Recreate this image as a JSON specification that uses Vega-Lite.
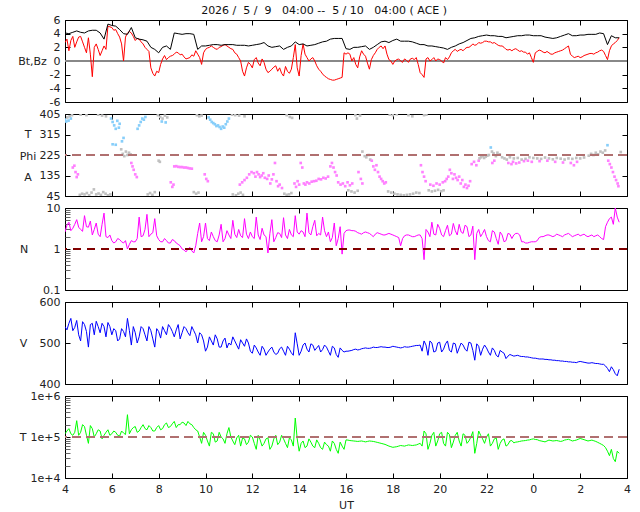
{
  "$schema": "https://vega.github.io/schema/vega-lite/v6.json",
  "padding": {"left": 17, "top": 5, "right": 5, "bottom": 5},
  "bounds": "flush",
  "spacing": 12,
  "title": {
    "text": "2026 /\u00a0 5 /\u00a0 9 \u00a0 04:00 --\u00a0 5 / 10 \u00a0 04:00 ( ACE )",
    "font": "DejaVu Sans", "fontSize": 11, "fontWeight": "normal", "color": "#111",
    "anchor": "middle", "offset": -2.5
  },
  "config": {
    "font": "DejaVu Sans",
    "view": {"stroke": "black", "strokeWidth": 1},
    "axis": {
      "domain": false, "grid": false, "tickColor": "black", "tickSize": -5, "tickWidth": 1,
      "labelPadding": 10, "labelFont": "DejaVu Sans", "labelFontSize": 11, "labelColor": "#222",
      "titleFont": "DejaVu Sans", "titleFontSize": 11, "titleFontWeight": "normal", "titleColor": "#222",
      "labelFlush": false, "labelOverlap": false
    }
  },
  "datasets": {
    "sw": [
      {"m":0,"bt":4.1,"bz":2.7,"n":2.6,"v":540,"tp":120000},
      {"m":10,"bt":4.0,"bz":1.5,"n":4.5,"v":548,"tp":160000},
      {"m":20,"bt":4.2,"bz":3.6,"n":3.2,"v":530,"tp":110000},
      {"m":30,"bt":4.4,"bz":2.8,"n":5.2,"v":555,"tp":250000},
      {"m":40,"bt":4.2,"bz":3.6,"n":3.0,"v":505,"tp":130000},
      {"m":50,"bt":4.1,"bz":2.0,"n":6.5,"v":545,"tp":180000},
      {"m":60,"bt":4.4,"bz":3.4,"n":3.4,"v":490,"tp":70000},
      {"m":70,"bt":4.5,"bz":-2.3,"n":2.2,"v":548,"tp":160000},
      {"m":80,"bt":4.5,"bz":2.5,"n":4.3,"v":553,"tp":120000},
      {"m":90,"bt":4.1,"bz":0.8,"n":2.0,"v":525,"tp":140000},
      {"m":100,"bt":3.2,"bz":2.2,"n":7.5,"v":540,"tp":110000},
      {"m":110,"bt":5.4,"bz":5.1,"n":1.9,"v":550,"tp":150000},
      {"m":120,"bt":5.2,"bz":4.9,"n":1.6,"v":520,"tp":120000},
      {"m":130,"bt":5.1,"bz":4.6,"n":1.5,"v":530,"tp":130000},
      {"m":140,"bt":4.6,"bz":3.5,"n":1.7,"v":510,"tp":105000},
      {"m":150,"bt":4.0,"bz":0.0,"n":1.4,"v":528,"tp":125000},
      {"m":160,"bt":3.9,"bz":4.1,"n":1.0,"v":560,"tp":350000},
      {"m":170,"bt":4.9,"bz":4.1,"n":1.6,"v":495,"tp":150000},
      {"m":180,"bt":3.4,"bz":3.0,"n":1.5,"v":525,"tp":180000},
      {"m":190,"bt":3.2,"bz":3.2,"n":6.0,"v":515,"tp":140000},
      {"m":200,"bt":3.1,"bz":2.5,"n":2.1,"v":535,"tp":200000},
      {"m":210,"bt":2.9,"bz":1.7,"n":7.0,"v":505,"tp":150000},
      {"m":220,"bt":2.0,"bz":-1.0,"n":2.3,"v":530,"tp":170000},
      {"m":230,"bt":1.7,"bz":-2.2,"n":5.5,"v":490,"tp":140000},
      {"m":240,"bt":1.2,"bz":-1.7,"n":1.7,"v":528,"tp":190000},
      {"m":250,"bt":2.0,"bz":0.3,"n":1.5,"v":540,"tp":160000},
      {"m":260,"bt":2.2,"bz":0.2,"n":1.6,"v":520,"tp":220000},
      {"m":270,"bt":1.7,"bz":0.7,"n":1.4,"v":538,"tp":180000},
      {"m":280,"bt":4.1,"bz":1.0,"n":1.6,"v":515,"tp":240000},
      {"m":290,"bt":4.0,"bz":1.2,"n":1.3,"v":545,"tp":200000},
      {"m":300,"bt":3.9,"bz":1.0,"n":1.0,"v":525,"tp":230000},
      {"m":310,"bt":4.0,"bz":0.3,"n":0.85,"v":535,"tp":190000},
      {"m":320,"bt":4.0,"bz":0.5,"n":1.1,"v":518,"tp":210000},
      {"m":330,"bt":3.9,"bz":0.7,"n":0.8,"v":530,"tp":170000},
      {"m":340,"bt":1.7,"bz":1.0,"n":2.4,"v":500,"tp":140000},
      {"m":350,"bt":2.2,"bz":-0.5,"n":1.5,"v":520,"tp":70000},
      {"m":360,"bt":2.2,"bz":1.7,"n":4.3,"v":480,"tp":110000},
      {"m":370,"bt":2.3,"bz":2.0,"n":1.6,"v":515,"tp":60000},
      {"m":380,"bt":2.4,"bz":2.0,"n":2.0,"v":495,"tp":120000},
      {"m":390,"bt":2.4,"bz":1.7,"n":1.5,"v":510,"tp":80000},
      {"m":400,"bt":2.3,"bz":2.1,"n":4.0,"v":490,"tp":100000},
      {"m":410,"bt":2.4,"bz":2.4,"n":1.8,"v":512,"tp":70000},
      {"m":420,"bt":2.4,"bz":2.0,"n":2.2,"v":500,"tp":170000},
      {"m":430,"bt":2.4,"bz":1.7,"n":5.0,"v":515,"tp":80000},
      {"m":440,"bt":2.3,"bz":1.0,"n":1.9,"v":495,"tp":95000},
      {"m":450,"bt":2.3,"bz":0.0,"n":2.1,"v":508,"tp":60000},
      {"m":460,"bt":2.3,"bz":-2.2,"n":5.5,"v":492,"tp":90000},
      {"m":470,"bt":2.2,"bz":-0.2,"n":1.8,"v":500,"tp":75000},
      {"m":480,"bt":2.3,"bz":-1.0,"n":2.0,"v":475,"tp":100000},
      {"m":490,"bt":2.4,"bz":0.5,"n":6.0,"v":488,"tp":50000},
      {"m":500,"bt":2.5,"bz":-0.7,"n":1.7,"v":470,"tp":85000},
      {"m":510,"bt":2.7,"bz":-0.2,"n":2.2,"v":485,"tp":70000},
      {"m":520,"bt":2.2,"bz":-1.7,"n":0.8,"v":478,"tp":95000},
      {"m":530,"bt":2.0,"bz":-1.2,"n":5.2,"v":490,"tp":60000},
      {"m":540,"bt":2.1,"bz":-0.7,"n":1.9,"v":472,"tp":110000},
      {"m":550,"bt":2.2,"bz":-1.0,"n":2.4,"v":486,"tp":75000},
      {"m":560,"bt":1.7,"bz":-2.2,"n":5.8,"v":480,"tp":90000},
      {"m":570,"bt":2.0,"bz":-1.5,"n":1.8,"v":492,"tp":55000},
      {"m":580,"bt":2.2,"bz":-1.2,"n":2.2,"v":476,"tp":85000},
      {"m":590,"bt":2.8,"bz":2.4,"n":6.5,"v":525,"tp":290000},
      {"m":600,"bt":2.4,"bz":-2.2,"n":2.3,"v":470,"tp":45000},
      {"m":610,"bt":2.5,"bz":2.5,"n":2.6,"v":495,"tp":80000},
      {"m":620,"bt":2.2,"bz":0.5,"n":7.5,"v":485,"tp":60000},
      {"m":630,"bt":2.3,"bz":0.3,"n":2.2,"v":498,"tp":75000},
      {"m":640,"bt":2.4,"bz":0.0,"n":5.0,"v":482,"tp":55000},
      {"m":650,"bt":2.6,"bz":-1.2,"n":2.4,"v":494,"tp":70000},
      {"m":660,"bt":2.8,"bz":-1.9,"n":6.0,"v":484,"tp":50000},
      {"m":670,"bt":2.9,"bz":-2.4,"n":2.0,"v":490,"tp":65000},
      {"m":680,"bt":3.2,"bz":-2.7,"n":1.5,"v":470,"tp":45000},
      {"m":690,"bt":3.3,"bz":-2.8,"n":4.3,"v":488,"tp":70000},
      {"m":700,"bt":3.3,"bz":-2.6,"n":1.8,"v":465,"tp":40000},
      {"m":710,"bt":3.3,"bz":-2.4,"n":0.75,"v":482,"tp":60000},
      {"m":720,"bt":1.8,"bz":1.0,"n":2.8,"v":480,"tp":85000},
      {"m":730,"bt":1.7,"bz":1.0,"n":2.9,"v":481,"tp":82000},
      {"m":740,"bt":2.0,"bz":0.5,"n":2.8,"v":484,"tp":80000},
      {"m":750,"bt":2.0,"bz":-1.0,"n":2.5,"v":483,"tp":78000},
      {"m":760,"bt":2.1,"bz":1.5,"n":2.3,"v":486,"tp":80000},
      {"m":770,"bt":2.2,"bz":0.7,"n":2.6,"v":488,"tp":76000},
      {"m":780,"bt":1.7,"bz":-1.2,"n":2.4,"v":487,"tp":80000},
      {"m":790,"bt":2.0,"bz":0.8,"n":2.0,"v":490,"tp":78000},
      {"m":800,"bt":2.4,"bz":1.7,"n":2.5,"v":489,"tp":74000},
      {"m":810,"bt":2.8,"bz":2.2,"n":2.3,"v":491,"tp":70000},
      {"m":820,"bt":2.9,"bz":2.2,"n":2.2,"v":490,"tp":66000},
      {"m":830,"bt":2.7,"bz":0.2,"n":2.4,"v":489,"tp":60000},
      {"m":840,"bt":3.0,"bz":-0.5,"n":2.2,"v":492,"tp":56000},
      {"m":850,"bt":3.2,"bz":0.2,"n":2.0,"v":490,"tp":58000},
      {"m":860,"bt":2.9,"bz":0.0,"n":1.2,"v":488,"tp":62000},
      {"m":870,"bt":2.9,"bz":0.3,"n":2.1,"v":491,"tp":60000},
      {"m":880,"bt":2.9,"bz":-0.2,"n":2.2,"v":490,"tp":64000},
      {"m":890,"bt":2.8,"bz":0.4,"n":2.0,"v":492,"tp":62000},
      {"m":900,"bt":2.6,"bz":0.5,"n":2.1,"v":494,"tp":64000},
      {"m":910,"bt":2.4,"bz":-1.7,"n":2.2,"v":495,"tp":70000},
      {"m":920,"bt":2.4,"bz":-2.4,"n":0.55,"v":505,"tp":140000},
      {"m":930,"bt":2.2,"bz":0.5,"n":2.6,"v":470,"tp":50000},
      {"m":940,"bt":2.2,"bz":0.2,"n":4.5,"v":500,"tp":110000},
      {"m":950,"bt":2.1,"bz":0.0,"n":2.2,"v":480,"tp":60000},
      {"m":960,"bt":2.0,"bz":0.2,"n":3.2,"v":502,"tp":120000},
      {"m":970,"bt":1.9,"bz":-0.3,"n":2.0,"v":485,"tp":70000},
      {"m":980,"bt":1.7,"bz":0.2,"n":3.8,"v":505,"tp":130000},
      {"m":990,"bt":2.0,"bz":1.2,"n":2.3,"v":478,"tp":55000},
      {"m":1000,"bt":2.2,"bz":1.7,"n":2.8,"v":498,"tp":110000},
      {"m":1010,"bt":2.5,"bz":1.6,"n":4.0,"v":488,"tp":80000},
      {"m":1020,"bt":2.7,"bz":1.5,"n":2.4,"v":495,"tp":120000},
      {"m":1030,"bt":3.0,"bz":2.0,"n":3.5,"v":480,"tp":70000},
      {"m":1040,"bt":3.3,"bz":2.2,"n":2.2,"v":500,"tp":100000},
      {"m":1050,"bt":3.4,"bz":2.3,"n":0.55,"v":458,"tp":40000},
      {"m":1060,"bt":3.6,"bz":2.7,"n":3.0,"v":492,"tp":140000},
      {"m":1070,"bt":3.7,"bz":2.7,"n":2.4,"v":485,"tp":90000},
      {"m":1080,"bt":3.8,"bz":2.9,"n":2.0,"v":488,"tp":100000},
      {"m":1090,"bt":3.7,"bz":2.8,"n":1.5,"v":470,"tp":60000},
      {"m":1100,"bt":3.7,"bz":2.7,"n":2.6,"v":482,"tp":90000},
      {"m":1110,"bt":3.6,"bz":2.3,"n":1.3,"v":466,"tp":50000},
      {"m":1120,"bt":3.6,"bz":2.2,"n":2.2,"v":478,"tp":85000},
      {"m":1130,"bt":3.4,"bz":1.7,"n":1.6,"v":462,"tp":60000},
      {"m":1140,"bt":3.5,"bz":1.7,"n":2.3,"v":472,"tp":80000},
      {"m":1150,"bt":3.6,"bz":1.7,"n":2.2,"v":468,"tp":72000},
      {"m":1160,"bt":3.7,"bz":1.6,"n":2.4,"v":470,"tp":76000},
      {"m":1170,"bt":3.7,"bz":1.5,"n":1.5,"v":467,"tp":80000},
      {"m":1180,"bt":3.8,"bz":1.3,"n":1.4,"v":466,"tp":82000},
      {"m":1190,"bt":3.8,"bz":1.2,"n":1.45,"v":465,"tp":85000},
      {"m":1200,"bt":3.7,"bz":-0.2,"n":1.5,"v":463,"tp":90000},
      {"m":1210,"bt":3.7,"bz":1.4,"n":1.6,"v":462,"tp":86000},
      {"m":1220,"bt":3.7,"bz":1.5,"n":2.0,"v":461,"tp":80000},
      {"m":1230,"bt":3.5,"bz":1.2,"n":2.1,"v":460,"tp":76000},
      {"m":1240,"bt":3.4,"bz":1.2,"n":2.2,"v":459,"tp":84000},
      {"m":1250,"bt":3.3,"bz":1.0,"n":2.0,"v":458,"tp":80000},
      {"m":1260,"bt":3.4,"bz":1.3,"n":2.3,"v":457,"tp":82000},
      {"m":1270,"bt":3.6,"bz":1.5,"n":2.1,"v":456,"tp":78000},
      {"m":1280,"bt":3.8,"bz":1.8,"n":2.2,"v":455,"tp":84000},
      {"m":1290,"bt":4.0,"bz":2.2,"n":2.4,"v":454,"tp":88000},
      {"m":1300,"bt":3.7,"bz":0.7,"n":2.0,"v":453,"tp":80000},
      {"m":1310,"bt":3.7,"bz":0.6,"n":2.2,"v":452,"tp":84000},
      {"m":1320,"bt":3.8,"bz":0.5,"n":2.1,"v":455,"tp":92000},
      {"m":1330,"bt":3.8,"bz":0.8,"n":2.3,"v":453,"tp":86000},
      {"m":1340,"bt":3.9,"bz":1.0,"n":2.0,"v":451,"tp":80000},
      {"m":1350,"bt":3.9,"bz":1.1,"n":2.2,"v":452,"tp":84000},
      {"m":1360,"bt":3.9,"bz":1.2,"n":2.1,"v":450,"tp":78000},
      {"m":1370,"bt":4.1,"bz":1.5,"n":2.0,"v":449,"tp":70000},
      {"m":1380,"bt":4.0,"bz":1.4,"n":1.7,"v":448,"tp":62000},
      {"m":1390,"bt":2.4,"bz":0.2,"n":4.5,"v":438,"tp":45000},
      {"m":1400,"bt":3.7,"bz":2.2,"n":6.0,"v":442,"tp":50000},
      {"m":1410,"bt":3.4,"bz":2.7,"n":10.0,"v":425,"tp":25000},
      {"m":1420,"bt":3.4,"bz":3.4,"n":4.5,"v":436,"tp":40000},
      {"m":5,"bz":3.2,"n":3.8,"v":532,"tp":140000},
      {"m":15,"bz":3.0,"n":2.8,"v":560,"tp":120000},
      {"m":25,"bz":2.0,"n":4.0,"v":538,"tp":130000},
      {"m":35,"bz":3.5,"n":3.4,"v":520,"tp":110000},
      {"m":45,"bz":2.8,"n":2.7,"v":552,"tp":200000},
      {"m":55,"bz":1.2,"n":3.5,"v":528,"tp":110000},
      {"m":65,"bz":1.0,"n":4.8,"v":545,"tp":190000},
      {"m":75,"bz":2.0,"n":3.0,"v":520,"tp":100000},
      {"m":85,"bz":1.7,"n":2.3,"v":540,"tp":150000},
      {"m":95,"bz":1.5,"n":4.0,"v":548,"tp":90000},
      {"m":105,"bz":1.7,"n":2.0,"v":515,"tp":130000},
      {"m":115,"bz":5.0,"n":2.2,"v":540,"tp":110000},
      {"m":125,"bz":4.5,"n":1.4,"v":535,"tp":140000},
      {"m":135,"bz":4.0,"n":1.8,"v":505,"tp":110000},
      {"m":145,"bz":2.5,"n":1.5,"v":535,"tp":140000},
      {"m":155,"bz":3.5,"n":1.6,"v":515,"tp":115000},
      {"m":165,"bz":4.3,"n":1.3,"v":530,"tp":120000},
      {"m":175,"bz":3.6,"n":1.5,"v":540,"tp":170000},
      {"m":185,"bz":3.3,"n":1.8,"v":500,"tp":130000},
      {"m":195,"bz":2.8,"n":2.0,"v":540,"tp":170000},
      {"m":205,"bz":2.0,"n":3.0,"v":520,"tp":160000},
      {"m":215,"bz":1.4,"n":2.0,"v":540,"tp":190000},
      {"m":225,"bz":-1.8,"n":2.5,"v":510,"tp":140000},
      {"m":235,"bz":-1.5,"n":2.1,"v":535,"tp":170000},
      {"m":245,"bz":-0.5,"n":1.5,"v":512,"tp":150000},
      {"m":255,"bz":0.8,"n":1.8,"v":530,"tp":200000},
      {"m":265,"bz":0.5,"n":1.4,"v":545,"tp":170000},
      {"m":275,"bz":0.8,"n":1.7,"v":528,"tp":210000},
      {"m":285,"bz":1.3,"n":1.4,"v":532,"tp":170000},
      {"m":295,"bz":0.9,"n":1.2,"v":510,"tp":200000},
      {"m":305,"bz":0.6,"n":0.95,"v":540,"tp":220000},
      {"m":315,"bz":0.4,"n":1.0,"v":525,"tp":240000},
      {"m":325,"bz":0.9,"n":0.9,"v":540,"tp":200000},
      {"m":335,"bz":1.5,"n":1.2,"v":520,"tp":150000},
      {"m":345,"bz":0.5,"n":4.3,"v":525,"tp":100000},
      {"m":355,"bz":1.2,"n":2.0,"v":505,"tp":130000},
      {"m":365,"bz":1.9,"n":1.8,"v":490,"tp":80000},
      {"m":375,"bz":2.2,"n":2.6,"v":505,"tp":130000},
      {"m":385,"bz":1.8,"n":1.6,"v":520,"tp":75000},
      {"m":395,"bz":2.0,"n":2.2,"v":490,"tp":130000},
      {"m":405,"bz":2.3,"n":1.5,"v":505,"tp":90000},
      {"m":415,"bz":2.2,"n":2.8,"v":488,"tp":120000},
      {"m":425,"bz":1.8,"n":1.8,"v":495,"tp":100000},
      {"m":435,"bz":1.2,"n":2.3,"v":505,"tp":65000},
      {"m":445,"bz":0.5,"n":3.0,"v":485,"tp":110000},
      {"m":455,"bz":-1.5,"n":1.9,"v":500,"tp":95000},
      {"m":465,"bz":-1.0,"n":2.3,"v":510,"tp":65000},
      {"m":475,"bz":-0.5,"n":2.6,"v":480,"tp":110000},
      {"m":485,"bz":0.2,"n":1.8,"v":495,"tp":70000},
      {"m":495,"bz":-0.3,"n":2.2,"v":478,"tp":110000},
      {"m":505,"bz":0.3,"n":3.2,"v":492,"tp":60000},
      {"m":515,"bz":-1.2,"n":2.0,"v":470,"tp":90000},
      {"m":525,"bz":-1.5,"n":2.4,"v":485,"tp":50000},
      {"m":535,"bz":-0.9,"n":1.5,"v":478,"tp":90000},
      {"m":545,"bz":-1.5,"n":2.5,"v":475,"tp":65000},
      {"m":555,"bz":-1.8,"n":1.9,"v":490,"tp":110000},
      {"m":565,"bz":-0.8,"n":2.2,"v":470,"tp":70000},
      {"m":575,"bz":-1.8,"n":3.0,"v":485,"tp":95000},
      {"m":585,"bz":0.5,"n":2.0,"v":470,"tp":60000},
      {"m":595,"bz":-1.0,"n":2.6,"v":498,"tp":90000},
      {"m":605,"bz":0.8,"n":2.8,"v":480,"tp":70000},
      {"m":615,"bz":1.0,"n":2.0,"v":500,"tp":55000},
      {"m":625,"bz":0.0,"n":2.5,"v":478,"tp":90000},
      {"m":635,"bz":0.5,"n":3.5,"v":495,"tp":60000},
      {"m":645,"bz":-0.7,"n":2.1,"v":488,"tp":85000},
      {"m":655,"bz":-1.5,"n":2.2,"v":478,"tp":55000},
      {"m":665,"bz":-2.2,"n":2.8,"v":495,"tp":75000},
      {"m":675,"bz":-2.6,"n":2.6,"v":480,"tp":60000},
      {"m":685,"bz":-2.8,"n":1.9,"v":492,"tp":80000},
      {"m":695,"bz":-2.7,"n":1.2,"v":472,"tp":50000},
      {"m":705,"bz":-2.5,"n":3.5,"v":488,"tp":75000},
      {"m":715,"bz":1.2,"n":2.4,"v":478,"tp":50000},
      {"m":725,"bz":1.2,"n":2.9,"v":480,"tp":84000},
      {"m":735,"bz":0.0,"n":2.8,"v":482,"tp":81000},
      {"m":745,"bz":-0.5,"n":2.7,"v":485,"tp":79000},
      {"m":755,"bz":0.6,"n":2.4,"v":484,"tp":79000},
      {"m":765,"bz":1.0,"n":2.5,"v":487,"tp":78000},
      {"m":775,"bz":-0.3,"n":2.5,"v":487,"tp":78000},
      {"m":785,"bz":0.2,"n":2.2,"v":488,"tp":79000},
      {"m":795,"bz":1.2,"n":2.3,"v":489,"tp":76000},
      {"m":805,"bz":2.0,"n":2.4,"v":490,"tp":72000},
      {"m":815,"bz":1.8,"n":2.2,"v":490,"tp":68000},
      {"m":825,"bz":1.0,"n":2.3,"v":489,"tp":63000},
      {"m":835,"bz":0.0,"n":2.3,"v":490,"tp":58000},
      {"m":845,"bz":0.0,"n":2.1,"v":491,"tp":57000},
      {"m":855,"bz":0.3,"n":1.9,"v":489,"tp":60000},
      {"m":865,"bz":-0.2,"n":1.8,"v":489,"tp":61000},
      {"m":875,"bz":0.1,"n":2.2,"v":490,"tp":62000},
      {"m":885,"bz":0.3,"n":2.1,"v":491,"tp":63000},
      {"m":895,"bz":0.2,"n":2.0,"v":493,"tp":63000},
      {"m":905,"bz":-0.5,"n":2.2,"v":494,"tp":67000},
      {"m":915,"bz":-2.0,"n":1.8,"v":480,"tp":60000},
      {"m":925,"bz":0.3,"n":3.0,"v":495,"tp":120000},
      {"m":935,"bz":0.0,"n":2.0,"v":505,"tp":70000},
      {"m":945,"bz":0.5,"n":2.3,"v":478,"tp":130000},
      {"m":955,"bz":0.3,"n":4.0,"v":500,"tp":80000},
      {"m":965,"bz":0.0,"n":2.2,"v":478,"tp":130000},
      {"m":975,"bz":0.5,"n":2.8,"v":498,"tp":60000},
      {"m":985,"bz":0.6,"n":2.1,"v":482,"tp":115000},
      {"m":995,"bz":1.5,"n":4.2,"v":500,"tp":75000},
      {"m":1005,"bz":1.4,"n":2.2,"v":475,"tp":130000},
      {"m":1015,"bz":1.7,"n":2.6,"v":500,"tp":60000},
      {"m":1025,"bz":1.8,"n":3.8,"v":485,"tp":110000},
      {"m":1035,"bz":2.0,"n":2.0,"v":502,"tp":80000},
      {"m":1045,"bz":2.5,"n":3.6,"v":482,"tp":135000},
      {"m":1055,"bz":2.4,"n":2.4,"v":498,"tp":70000},
      {"m":1065,"bz":2.6,"n":2.0,"v":470,"tp":110000},
      {"m":1075,"bz":2.9,"n":3.0,"v":495,"tp":70000},
      {"m":1085,"bz":2.8,"n":1.6,"v":478,"tp":120000},
      {"m":1095,"bz":2.6,"n":2.8,"v":488,"tp":70000},
      {"m":1105,"bz":2.5,"n":1.8,"v":470,"tp":95000},
      {"m":1115,"bz":2.2,"n":2.6,"v":482,"tp":70000},
      {"m":1125,"bz":2.0,"n":1.5,"v":475,"tp":90000},
      {"m":1135,"bz":1.6,"n":2.4,"v":468,"tp":65000},
      {"m":1145,"bz":1.5,"n":1.8,"v":470,"tp":82000},
      {"m":1155,"bz":1.8,"n":2.4,"v":469,"tp":75000},
      {"m":1165,"bz":1.4,"n":2.2,"v":468,"tp":78000},
      {"m":1175,"bz":1.3,"n":1.5,"v":467,"tp":81000},
      {"m":1185,"bz":1.0,"n":1.4,"v":466,"tp":84000},
      {"m":1195,"bz":0.5,"n":1.5,"v":464,"tp":88000},
      {"m":1205,"bz":1.2,"n":1.5,"v":463,"tp":87000},
      {"m":1215,"bz":1.6,"n":1.9,"v":461,"tp":82000},
      {"m":1225,"bz":1.3,"n":2.0,"v":461,"tp":78000},
      {"m":1235,"bz":1.4,"n":2.2,"v":460,"tp":80000},
      {"m":1245,"bz":1.0,"n":2.1,"v":459,"tp":82000},
      {"m":1255,"bz":1.2,"n":2.1,"v":458,"tp":81000},
      {"m":1265,"bz":1.4,"n":2.2,"v":457,"tp":80000},
      {"m":1275,"bz":1.6,"n":2.0,"v":456,"tp":80000},
      {"m":1285,"bz":2.0,"n":2.3,"v":455,"tp":86000},
      {"m":1295,"bz":1.0,"n":2.2,"v":454,"tp":84000},
      {"m":1305,"bz":0.5,"n":2.1,"v":453,"tp":82000},
      {"m":1315,"bz":0.7,"n":2.3,"v":454,"tp":88000},
      {"m":1325,"bz":0.6,"n":2.2,"v":454,"tp":89000},
      {"m":1335,"bz":0.9,"n":2.1,"v":452,"tp":83000},
      {"m":1345,"bz":1.1,"n":2.1,"v":451,"tp":82000},
      {"m":1355,"bz":1.0,"n":2.0,"v":451,"tp":81000},
      {"m":1365,"bz":1.3,"n":2.2,"v":450,"tp":74000},
      {"m":1375,"bz":1.6,"n":1.8,"v":448,"tp":66000},
      {"m":1385,"bz":0.8,"n":3.5,"v":444,"tp":55000},
      {"m":1395,"bz":1.5,"n":5.5,"v":430,"tp":35000},
      {"m":1405,"bz":2.5,"n":4.0,"v":435,"tp":30000},
      {"m":1415,"bz":3.0,"n":6.0,"v":420,"tp":45000}
    ],
    "phi": [
      {"m":0,"p":380,"c":"b"},{"m":3,"p":372,"c":"b"},{"m":6,"p":390,"c":"g"},{"m":9,"p":376,"c":"b"},{"m":12,"p":395,"c":"g"},{"m":15,"p":385,"c":"b"},{"m":18,"p":400,"c":"g"},
      {"m":20,"p":170,"c":"p"},{"m":24,"p":178,"c":"p"},{"m":27,"p":150,"c":"p"},{"m":30,"p":128,"c":"p"},{"m":33,"p":140,"c":"p"},
      {"m":38,"p":50,"c":"g"},{"m":44,"p":55,"c":"g"},{"m":50,"p":52,"c":"g"},{"m":56,"p":58,"c":"g"},{"m":62,"p":48,"c":"g"},{"m":68,"p":60,"c":"g"},{"m":74,"p":74,"c":"g"},{"m":80,"p":52,"c":"g"},{"m":86,"p":56,"c":"g"},{"m":92,"p":50,"c":"g"},{"m":98,"p":62,"c":"g"},{"m":104,"p":55,"c":"g"},{"m":110,"p":48,"c":"g"},{"m":116,"p":52,"c":"g"},
      {"m":40,"p":402,"c":"g"},{"m":55,"p":400,"c":"g"},{"m":85,"p":402,"c":"g"},{"m":95,"p":398,"c":"g"},{"m":105,"p":395,"c":"g"},
      {"m":118,"p":385,"c":"b"},{"m":122,"p":370,"c":"b"},{"m":126,"p":355,"c":"b"},{"m":130,"p":340,"c":"b"},{"m":134,"p":375,"c":"b"},{"m":138,"p":345,"c":"b"},{"m":140,"p":362,"c":"b"},{"m":122,"p":272,"c":"b"},{"m":130,"p":270,"c":"b"},
      {"m":144,"p":250,"c":"g"},{"m":148,"p":230,"c":"g"},{"m":152,"p":220,"c":"g"},{"m":156,"p":240,"c":"g"},{"m":160,"p":225,"c":"g"},{"m":164,"p":235,"c":"g"},{"m":168,"p":228,"c":"g"},{"m":150,"p":300,"c":"b"},{"m":146,"p":285,"c":"b"},
      {"m":170,"p":190,"c":"p"},{"m":173,"p":175,"c":"p"},{"m":176,"p":160,"c":"p"},{"m":180,"p":140,"c":"p"},{"m":184,"p":128,"c":"p"},
      {"m":186,"p":340,"c":"b"},{"m":190,"p":355,"c":"b"},{"m":194,"p":370,"c":"b"},{"m":198,"p":385,"c":"b"},{"m":202,"p":380,"c":"b"},{"m":206,"p":392,"c":"b"},
      {"m":212,"p":52,"c":"g"},{"m":218,"p":58,"c":"g"},{"m":224,"p":50,"c":"g"},{"m":230,"p":62,"c":"g"},{"m":240,"p":200,"c":"g"},{"m":243,"p":195,"c":"g"},
      {"m":238,"p":400,"c":"g"},{"m":244,"p":392,"c":"g"},{"m":250,"p":385,"c":"g"},{"m":256,"p":398,"c":"g"},{"m":262,"p":390,"c":"g"},{"m":248,"p":372,"c":"b"},{"m":258,"p":368,"c":"b"},
      {"m":271,"p":105,"c":"p"},{"m":275,"p":85,"c":"p"},{"m":278,"p":95,"c":"p"},
      {"m":280,"p":175,"c":"p"},{"m":285,"p":176,"c":"p"},{"m":290,"p":173,"c":"p"},{"m":295,"p":172,"c":"p"},{"m":300,"p":172,"c":"p"},{"m":305,"p":170,"c":"p"},{"m":310,"p":170,"c":"p"},{"m":315,"p":168,"c":"p"},{"m":320,"p":166,"c":"p"},{"m":325,"p":165,"c":"p"},
      {"m":330,"p":62,"c":"g"},{"m":336,"p":55,"c":"g"},{"m":342,"p":60,"c":"g"},{"m":338,"p":400,"c":"g"},{"m":344,"p":395,"c":"g"},{"m":350,"p":398,"c":"g"},
      {"m":358,"p":140,"c":"p"},{"m":362,"p":120,"c":"p"},{"m":366,"p":110,"c":"p"},
      {"m":368,"p":390,"c":"b"},{"m":372,"p":380,"c":"b"},{"m":376,"p":370,"c":"b"},{"m":380,"p":365,"c":"b"},{"m":384,"p":360,"c":"b"},{"m":388,"p":352,"c":"b"},{"m":392,"p":355,"c":"b"},{"m":396,"p":348,"c":"b"},{"m":400,"p":340,"c":"b"},{"m":404,"p":350,"c":"b"},{"m":408,"p":345,"c":"b"},{"m":412,"p":360,"c":"b"},{"m":416,"p":372,"c":"b"},{"m":420,"p":385,"c":"b"},
      {"m":428,"p":402,"c":"g"},{"m":436,"p":400,"c":"g"},{"m":446,"p":398,"c":"g"},{"m":460,"p":395,"c":"g"},
      {"m":430,"p":52,"c":"g"},{"m":438,"p":48,"c":"g"},{"m":444,"p":55,"c":"g"},{"m":450,"p":60,"c":"g"},{"m":456,"p":50,"c":"g"},
      {"m":448,"p":95,"c":"p"},{"m":454,"p":105,"c":"p"},{"m":460,"p":115,"c":"p"},{"m":466,"p":125,"c":"p"},{"m":472,"p":140,"c":"p"},{"m":478,"p":150,"c":"p"},
      {"m":484,"p":145,"c":"p"},{"m":488,"p":130,"c":"p"},{"m":492,"p":150,"c":"p"},{"m":496,"p":140,"c":"p"},{"m":500,"p":128,"c":"p"},{"m":504,"p":135,"c":"p"},{"m":508,"p":145,"c":"p"},{"m":512,"p":125,"c":"p"},
      {"m":518,"p":120,"c":"p"},{"m":522,"p":135,"c":"p"},{"m":526,"p":100,"c":"p"},{"m":530,"p":118,"c":"p"},{"m":534,"p":140,"c":"p"},{"m":538,"p":190,"c":"p"},{"m":542,"p":110,"c":"p"},{"m":546,"p":88,"c":"p"},{"m":550,"p":95,"c":"p"},{"m":556,"p":80,"c":"p"},
      {"m":562,"p":55,"c":"g"},{"m":568,"p":50,"c":"g"},{"m":574,"p":52,"c":"g"},{"m":580,"p":58,"c":"g"},{"m":568,"p":400,"c":"g"},{"m":576,"p":392,"c":"g"},{"m":582,"p":388,"c":"g"},
      {"m":588,"p":100,"c":"p"},{"m":592,"p":85,"c":"p"},{"m":596,"p":110,"c":"p"},{"m":600,"p":95,"c":"p"},{"m":604,"p":190,"c":"p"},{"m":608,"p":170,"c":"p"},{"m":612,"p":100,"c":"p"},{"m":616,"p":95,"c":"p"},{"m":620,"p":105,"c":"p"},{"m":626,"p":100,"c":"p"},{"m":632,"p":108,"c":"p"},{"m":638,"p":110,"c":"p"},{"m":644,"p":112,"c":"p"},{"m":650,"p":120,"c":"p"},{"m":656,"p":118,"c":"p"},{"m":662,"p":125,"c":"p"},{"m":668,"p":122,"c":"p"},{"m":674,"p":130,"c":"p"},{"m":680,"p":175,"c":"p"},
      {"m":684,"p":190,"c":"p"},{"m":688,"p":170,"c":"p"},{"m":692,"p":150,"c":"p"},{"m":696,"p":135,"c":"p"},
      {"m":700,"p":105,"c":"p"},{"m":706,"p":95,"c":"p"},{"m":712,"p":100,"c":"p"},{"m":718,"p":88,"c":"p"},{"m":724,"p":105,"c":"p"},{"m":730,"p":92,"c":"p"},{"m":736,"p":100,"c":"p"},
      {"m":726,"p":70,"c":"g"},{"m":734,"p":65,"c":"g"},{"m":742,"p":60,"c":"g"},{"m":750,"p":68,"c":"g"},{"m":744,"p":400,"c":"g"},{"m":748,"p":385,"c":"g"},{"m":756,"p":398,"c":"g"},
      {"m":752,"p":150,"c":"p"},{"m":758,"p":120,"c":"p"},{"m":762,"p":100,"c":"p"},
      {"m":762,"p":240,"c":"g"},{"m":768,"p":220,"c":"g"},{"m":772,"p":215,"c":"g"},{"m":778,"p":225,"c":"g"},{"m":782,"p":205,"c":"g"},
      {"m":786,"p":200,"c":"p"},{"m":790,"p":175,"c":"p"},{"m":794,"p":160,"c":"p"},{"m":798,"p":180,"c":"p"},{"m":802,"p":150,"c":"p"},{"m":806,"p":130,"c":"p"},{"m":810,"p":120,"c":"p"},{"m":814,"p":110,"c":"p"},{"m":818,"p":100,"c":"p"},{"m":822,"p":105,"c":"p"},
      {"m":828,"p":65,"c":"g"},{"m":836,"p":60,"c":"g"},{"m":844,"p":55,"c":"g"},{"m":852,"p":52,"c":"g"},{"m":860,"p":50,"c":"g"},{"m":868,"p":48,"c":"g"},{"m":876,"p":50,"c":"g"},{"m":884,"p":52,"c":"g"},{"m":892,"p":55,"c":"g"},{"m":900,"p":60,"c":"g"},{"m":908,"p":58,"c":"g"},
      {"m":832,"p":402,"c":"g"},{"m":840,"p":400,"c":"g"},{"m":850,"p":404,"c":"g"},{"m":880,"p":400,"c":"g"},{"m":890,"p":395,"c":"g"},{"m":920,"p":400,"c":"g"},{"m":926,"p":402,"c":"g"},
      {"m":912,"p":180,"c":"p"},{"m":916,"p":150,"c":"p"},{"m":920,"p":130,"c":"p"},{"m":924,"p":110,"c":"p"},
      {"m":932,"p":70,"c":"g"},{"m":940,"p":65,"c":"g"},{"m":948,"p":68,"c":"g"},{"m":956,"p":72,"c":"g"},{"m":964,"p":66,"c":"g"},{"m":970,"p":70,"c":"g"},
      {"m":936,"p":95,"c":"p"},{"m":944,"p":90,"c":"p"},{"m":952,"p":100,"c":"p"},{"m":960,"p":95,"c":"p"},{"m":968,"p":105,"c":"p"},
      {"m":974,"p":110,"c":"p"},{"m":978,"p":120,"c":"p"},{"m":982,"p":130,"c":"p"},{"m":986,"p":160,"c":"p"},{"m":990,"p":145,"c":"p"},{"m":994,"p":120,"c":"p"},{"m":998,"p":140,"c":"p"},{"m":1002,"p":125,"c":"p"},{"m":1006,"p":115,"c":"p"},{"m":1010,"p":130,"c":"p"},{"m":1014,"p":100,"c":"p"},{"m":1018,"p":115,"c":"p"},{"m":1022,"p":85,"c":"p"},{"m":1026,"p":95,"c":"p"},{"m":1030,"p":80,"c":"p"},{"m":1034,"p":90,"c":"p"},{"m":1038,"p":110,"c":"p"},
      {"m":1042,"p":185,"c":"p"},{"m":1048,"p":195,"c":"p"},{"m":1054,"p":180,"c":"p"},{"m":1060,"p":200,"c":"p"},
      {"m":1062,"p":210,"c":"g"},{"m":1066,"p":215,"c":"g"},{"m":1070,"p":220,"c":"g"},{"m":1074,"p":212,"c":"g"},{"m":1078,"p":218,"c":"g"},{"m":1082,"p":222,"c":"g"},{"m":1086,"p":225,"c":"g"},
      {"m":1091,"p":258,"c":"b"},
      {"m":1094,"p":240,"c":"g"},{"m":1098,"p":232,"c":"g"},{"m":1104,"p":220,"c":"g"},{"m":1108,"p":235,"c":"g"},{"m":1114,"p":228,"c":"g"},{"m":1120,"p":215,"c":"g"},{"m":1126,"p":210,"c":"g"},{"m":1132,"p":205,"c":"g"},
      {"m":1095,"p":190,"c":"p"},{"m":1100,"p":200,"c":"p"},
      {"m":1140,"p":215,"c":"g"},{"m":1150,"p":210,"c":"g"},{"m":1160,"p":212,"c":"g"},{"m":1170,"p":205,"c":"g"},{"m":1180,"p":208,"c":"g"},{"m":1190,"p":215,"c":"g"},{"m":1200,"p":212,"c":"g"},{"m":1210,"p":210,"c":"g"},{"m":1220,"p":208,"c":"g"},{"m":1230,"p":214,"c":"g"},{"m":1240,"p":210,"c":"g"},{"m":1250,"p":206,"c":"g"},{"m":1260,"p":212,"c":"g"},{"m":1270,"p":209,"c":"g"},{"m":1280,"p":205,"c":"g"},{"m":1290,"p":210,"c":"g"},{"m":1300,"p":208,"c":"g"},{"m":1310,"p":212,"c":"g"},{"m":1320,"p":210,"c":"g"},{"m":1330,"p":214,"c":"g"},
      {"m":1136,"p":190,"c":"p"},{"m":1144,"p":185,"c":"p"},{"m":1148,"p":195,"c":"p"},{"m":1156,"p":188,"c":"p"},{"m":1164,"p":192,"c":"p"},{"m":1176,"p":198,"c":"p"},{"m":1186,"p":200,"c":"p"},{"m":1196,"p":195,"c":"p"},{"m":1216,"p":198,"c":"p"},{"m":1236,"p":200,"c":"p"},{"m":1256,"p":195,"c":"p"},{"m":1276,"p":192,"c":"p"},{"m":1296,"p":190,"c":"p"},{"m":1304,"p":180,"c":"p"},{"m":1312,"p":195,"c":"p"},
      {"m":1342,"p":222,"c":"g"},{"m":1348,"p":230,"c":"g"},{"m":1354,"p":225,"c":"g"},{"m":1360,"p":235,"c":"g"},{"m":1366,"p":228,"c":"g"},{"m":1372,"p":240,"c":"g"},{"m":1378,"p":235,"c":"g"},{"m":1384,"p":245,"c":"g"},
      {"m":1390,"p":268,"c":"b"},
      {"m":1392,"p":200,"c":"p"},{"m":1396,"p":185,"c":"p"},{"m":1400,"p":170,"c":"p"},{"m":1404,"p":150,"c":"p"},{"m":1408,"p":130,"c":"p"},{"m":1412,"p":115,"c":"p"},{"m":1416,"p":100,"c":"p"},{"m":1418,"p":88,"c":"p"},
      {"m":1424,"p":238,"c":"g"}
    ]
  },
  "vconcat": [
    {
      "width": 562, "height": 82,
      "data": {"name": "sw"},
      "layer": [
        {
          "mark": {"type": "rule", "color": "#888888", "strokeWidth": 2},
          "encoding": {"y": {"datum": 0, "type": "quantitative", "scale": {"domain": [-6, 6], "nice": false}, "axis": null}}
        },
        {
          "mark": {"type": "line", "color": "#ff0000", "strokeWidth": 1, "clip": true, "invalid": "filter"},
          "encoding": {
            "x": {"field": "m", "type": "quantitative", "scale": {"domain": [0, 1440], "nice": false, "zero": false},
              "axis": {"values": [0,120,240,360,480,600,720,840,960,1080,1200,1320,1440], "labels": false, "title": null}},
            "y": {"field": "bz", "type": "quantitative", "scale": {"domain": [-6, 6], "nice": false},
              "axis": {"values": [-6,-4,-2,0,2,4,6], "labelExpr": "'' + datum.value", "title": "Bt,Bz", "titleAngle": 0, "titleAlign": "center", "titleBaseline": "middle", "titleX": -33, "titleY": 41}}
          }
        },
        {
          "mark": {"type": "line", "color": "#000000", "strokeWidth": 1, "clip": true, "invalid": "filter"},
          "encoding": {
            "x": {"field": "m", "type": "quantitative", "axis": null},
            "y": {"field": "bt", "type": "quantitative", "axis": null}
          }
        },
        {
          "mark": {"type": "point", "opacity": 0},
          "encoding": {
            "x": {"field": "m", "type": "quantitative", "axis": {"orient": "top", "values": [0,120,240,360,480,600,720,840,960,1080,1200,1320,1440], "labels": false, "title": null}},
            "y": {"field": "bt", "type": "quantitative", "axis": {"orient": "right", "values": [-6,-4,-2,0,2,4,6], "labels": false, "title": null}}
          }
        }
      ],
      "resolve": {"axis": {"x": "independent", "y": "independent"}}
    },
    {
      "width": 562, "height": 82,
      "data": {"name": "phi"},
      "layer": [
        {
          "mark": {"type": "square", "size": 7, "filled": true, "opacity": 1, "clip": true},
          "encoding": {
            "x": {"field": "m", "type": "quantitative", "scale": {"domain": [0, 1440], "nice": false, "zero": false},
              "axis": {"values": [0,120,240,360,480,600,720,840,960,1080,1200,1320,1440], "labels": false, "title": null}},
            "y": {"field": "p", "type": "quantitative", "scale": {"domain": [45, 405], "nice": false, "zero": false},
              "axis": {"values": [45,135,225,315,405], "title": ["T", "Phi", "A"], "titleLineHeight": 21.5, "titleAngle": 0, "titleAlign": "center", "titleBaseline": "middle", "titleX": -37.5, "titleY": 20.5}},
            "color": {"field": "c", "type": "nominal", "scale": {"domain": ["g", "b", "p"], "range": ["#c0c0c0", "#87cefa", "#ff80ff"]}, "legend": null}
          }
        },
        {
          "mark": {"type": "rule", "color": "#b07070", "strokeWidth": 2, "strokeDash": [9, 5]},
          "encoding": {"y": {"datum": 225, "type": "quantitative", "axis": null}}
        },
        {
          "mark": {"type": "point", "opacity": 0},
          "encoding": {
            "x": {"field": "m", "type": "quantitative", "axis": {"orient": "top", "values": [0,120,240,360,480,600,720,840,960,1080,1200,1320,1440], "labels": false, "title": null}},
            "y": {"field": "p", "type": "quantitative", "axis": {"orient": "right", "values": [45,135,225,315,405], "labels": false, "title": null}}
          }
        }
      ],
      "resolve": {"axis": {"x": "independent", "y": "independent"}}
    },
    {
      "width": 562, "height": 82,
      "data": {"name": "sw"},
      "layer": [
        {
          "mark": {"type": "line", "color": "#ff00ff", "strokeWidth": 1, "clip": true, "invalid": "filter"},
          "encoding": {
            "x": {"field": "m", "type": "quantitative", "scale": {"domain": [0, 1440], "nice": false, "zero": false},
              "axis": {"values": [0,120,240,360,480,600,720,840,960,1080,1200,1320,1440], "labels": false, "title": null}},
            "y": {"field": "n", "type": "quantitative", "scale": {"type": "log", "domain": [0.1, 10], "nice": false},
              "axis": {"values": [0.1,0.2,0.3,0.4,0.5,0.6,0.7,0.8,0.9,1,2,3,4,5,6,7,8,9,10],
                "labelExpr": "datum.value == 0.1 ? '0.1' : datum.value == 1 ? '1' : datum.value == 10 ? '10' : ''",
                "tickColor": {"condition": {"test": "indexof([0.1, 1, 10], datum.value) >= 0", "value": "black"}, "value": "#666666"},
                "title": "N", "titleAngle": 0, "titleAlign": "center", "titleBaseline": "middle", "titleX": -41.5, "titleY": 41}}
          }
        },
        {
          "mark": {"type": "rule", "color": "#800000", "strokeWidth": 1, "strokeDash": [8, 6]},
          "encoding": {"y": {"datum": 1, "type": "quantitative", "axis": null}}
        },
        {
          "mark": {"type": "point", "opacity": 0},
          "encoding": {
            "x": {"field": "m", "type": "quantitative", "axis": {"orient": "top", "values": [0,120,240,360,480,600,720,840,960,1080,1200,1320,1440], "labels": false, "title": null}},
            "y": {"field": "n", "type": "quantitative", "axis": {"orient": "right", "values": [0.1, 1, 10], "labels": false, "title": null}}
          }
        }
      ],
      "resolve": {"axis": {"x": "independent", "y": "independent"}}
    },
    {
      "width": 562, "height": 82,
      "data": {"name": "sw"},
      "layer": [
        {
          "mark": {"type": "line", "color": "#0000ff", "strokeWidth": 1, "clip": true, "invalid": "filter"},
          "encoding": {
            "x": {"field": "m", "type": "quantitative", "scale": {"domain": [0, 1440], "nice": false, "zero": false},
              "axis": {"values": [0,120,240,360,480,600,720,840,960,1080,1200,1320,1440], "labels": false, "title": null}},
            "y": {"field": "v", "type": "quantitative", "scale": {"domain": [400, 600], "nice": false, "zero": false},
              "axis": {"values": [400, 500, 600], "title": "V", "titleAngle": 0, "titleAlign": "center", "titleBaseline": "middle", "titleX": -42, "titleY": 41}}
          }
        },
        {
          "mark": {"type": "point", "opacity": 0},
          "encoding": {
            "x": {"field": "m", "type": "quantitative", "axis": {"orient": "top", "values": [0,120,240,360,480,600,720,840,960,1080,1200,1320,1440], "labels": false, "title": null}},
            "y": {"field": "v", "type": "quantitative", "axis": {"orient": "right", "values": [400, 500, 600], "labels": false, "title": null}}
          }
        }
      ],
      "resolve": {"axis": {"x": "independent", "y": "independent"}}
    },
    {
      "width": 562, "height": 82,
      "data": {"name": "sw"},
      "layer": [
        {
          "mark": {"type": "line", "color": "#00ff00", "strokeWidth": 1, "clip": true, "invalid": "filter"},
          "encoding": {
            "x": {"field": "m", "type": "quantitative", "scale": {"domain": [0, 1440], "nice": false, "zero": false},
              "axis": {"values": [0,120,240,360,480,600,720,840,960,1080,1200,1320,1440], "labelExpr": "'' + ((4 + datum.value / 60) % 24)", "title": "UT", "titleBaseline": "middle", "titleY": 27}},
            "y": {"field": "tp", "type": "quantitative", "scale": {"type": "log", "domain": [10000, 1000000], "nice": false},
              "axis": {"values": [10000,20000,30000,40000,50000,60000,70000,80000,90000,100000,200000,300000,400000,500000,600000,700000,800000,900000,1000000],
                "labelExpr": "datum.value == 10000 ? '1e+4' : datum.value == 100000 ? '1e+5' : datum.value == 1000000 ? '1e+6' : ''",
                "tickColor": {"condition": {"test": "indexof([10000, 100000, 1000000], datum.value) >= 0", "value": "black"}, "value": "#666666"},
                "title": "T", "titleAngle": 0, "titleAlign": "center", "titleBaseline": "middle", "titleX": -42.5, "titleY": 41}}
          }
        },
        {
          "mark": {"type": "rule", "color": "#b07070", "strokeWidth": 2, "strokeDash": [9, 5]},
          "encoding": {"y": {"datum": 100000, "type": "quantitative", "axis": null}}
        },
        {
          "mark": {"type": "point", "opacity": 0},
          "encoding": {
            "x": {"field": "m", "type": "quantitative", "axis": {"orient": "top", "values": [0,120,240,360,480,600,720,840,960,1080,1200,1320,1440], "labels": false, "title": null}},
            "y": {"field": "tp", "type": "quantitative", "axis": {"orient": "right", "values": [10000, 100000, 1000000], "labels": false, "title": null}}
          }
        }
      ],
      "resolve": {"axis": {"x": "independent", "y": "independent"}}
    }
  ]
}
